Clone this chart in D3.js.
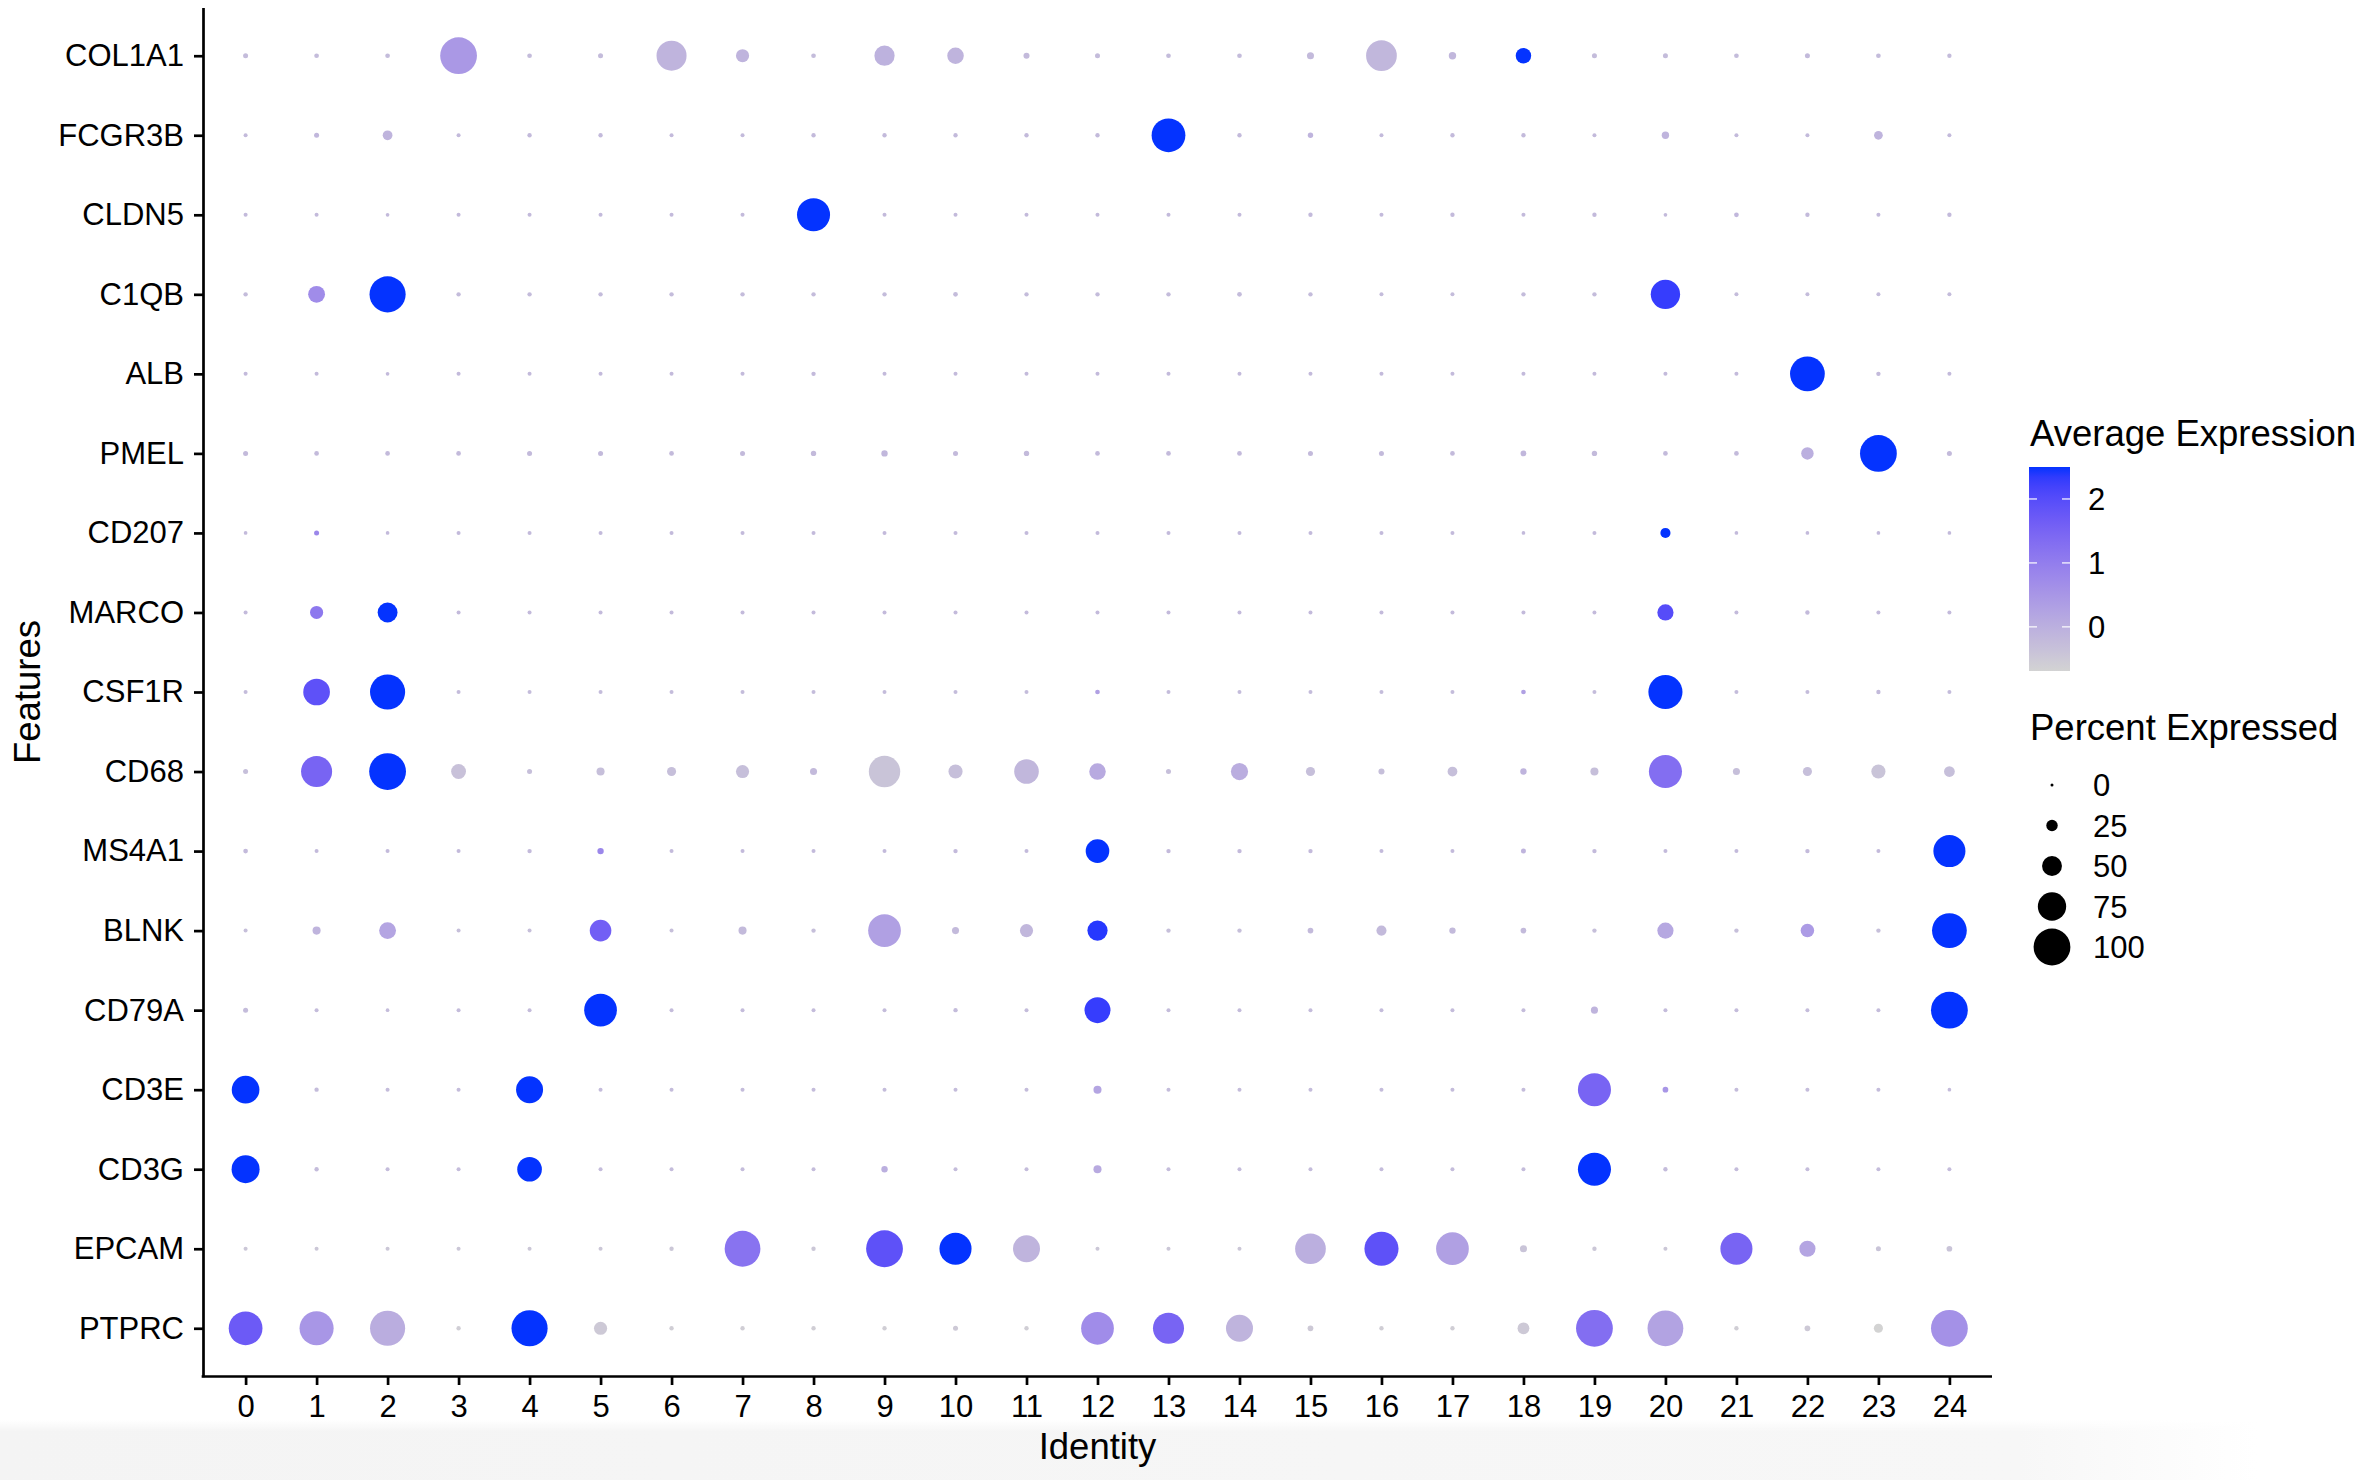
<!DOCTYPE html>
<html>
<head>
<meta charset="utf-8">
<script src="https://cdn.jsdelivr.net/npm/d3@7"></script>
<style>
  html, body { margin: 0; padding: 0; background: #ffffff; }
  svg { display: block; }
  text { font-family: "Liberation Sans", Arial, sans-serif; fill: #000; }
</style>
</head>
<body>
<svg id="chart" width="2376" height="1480"></svg>
<script>
// ---------------- DATA ----------------
const clusters = ["0","1","2","3","4","5","6","7","8","9","10","11","12","13","14","15","16","17","18","19","20","21","22","23","24"];
const features = ["COL1A1","FCGR3B","CLDN5","C1QB","ALB","PMEL","CD207","MARCO","CSF1R","CD68","MS4A1","BLNK","CD79A","CD3E","CD3G","EPCAM","PTPRC"];

// Percent expressed per feature, clusters 0..24
const pctCOL1A1 = [6,5,5,100,5,6,80,30,5,51,40,9,6,5,5,12,82,13,37,6,6,5,6,5,4];
const pctFCGR3B = [3,6,20,3,4,4,3,3,4,4,4,4,4,91,4,7,3,4,4,3,13,3,3,17,3];
const pctCLDN5  = [3,3,2,3,3,3,3,3,89,3,3,3,3,3,3,4,3,4,3,4,2,5,4,3,4];
const pctC1QB   = [4,41,98,4,4,4,4,4,4,4,5,4,4,4,5,4,3,3,4,4,78,3,3,3,3];
const pctALB    = [3,3,2,3,3,3,3,3,4,3,3,3,3,3,3,3,3,3,3,3,3,3,94,4,3];
const pctPMEL   = [6,5,5,5,6,6,5,6,7,10,6,7,5,5,5,6,6,5,8,7,5,5,28,100,6];
const pctCD207  = [2,6,2,3,3,3,3,3,3,3,3,3,3,3,3,3,3,3,2,3,21,2,2,2,2];
const pctMARCO  = [3,30,50,3,3,3,3,3,3,3,3,3,3,3,3,3,3,3,3,3,39,3,4,3,3];
const pctCSF1R  = [3,70,95,3,3,3,3,3,3,3,3,3,5,3,3,3,3,3,5,3,92,3,3,4,3];
const pctCD68   = [6,83,100,35,6,15,18,30,12,84,33,64,40,6,42,18,9,20,10,15,89,12,18,33,23];
const pctMS4A1  = [5,3,3,3,4,10,3,3,3,3,4,3,61,4,4,4,3,3,6,4,3,3,4,3,86];
const pctBLNK   = [3,15,41,3,3,55,3,15,4,88,12,30,51,4,4,8,21,10,8,4,39,4,31,4,94];
const pctCD79A  = [6,3,2,3,3,88,3,3,3,3,4,3,68,3,3,3,3,3,3,12,3,3,3,3,100];
const pctCD3E   = [73,4,3,3,71,3,3,3,3,3,3,3,15,3,3,3,3,3,3,89,8,3,3,3,2];
const pctCD3G   = [74,4,3,3,64,3,3,3,3,10,3,3,15,3,3,3,3,3,3,89,4,3,3,3,3];
const pctEPCAM  = [3,3,3,3,3,3,4,97,4,100,86,71,3,3,3,82,92,88,12,4,3,86,39,6,8];
const pctPTPRC  = [91,92,95,4,98,30,4,4,4,4,6,4,88,83,71,8,4,4,26,100,97,4,8,18,100];

// Average expression (scaled) per feature, clusters 0..24
const avgCOL1A1 = [-0.25,-0.25,-0.25,0.45,-0.25,-0.25,-0.1,-0.1,-0.25,-0.05,-0.1,-0.2,-0.25,-0.25,-0.25,-0.2,-0.15,-0.15,2.5,-0.25,-0.25,-0.25,-0.2,-0.25,-0.25];
const avgFCGR3B = [-0.2,-0.15,-0.1,-0.2,-0.2,-0.2,-0.2,-0.2,-0.2,-0.2,-0.2,-0.2,-0.2,2.5,-0.2,-0.1,-0.2,-0.2,-0.2,-0.2,-0.1,-0.2,-0.2,-0.1,-0.2];
const avgCLDN5  = [-0.2,-0.2,-0.2,-0.2,-0.2,-0.2,-0.2,-0.2,2.5,-0.2,-0.2,-0.2,-0.2,-0.2,-0.2,-0.2,-0.2,-0.2,-0.2,-0.2,-0.2,-0.15,-0.2,-0.2,-0.2];
const avgC1QB   = [-0.25,0.7,2.5,-0.25,-0.25,-0.25,-0.25,-0.25,-0.25,-0.25,-0.25,-0.25,-0.25,-0.25,-0.25,-0.25,-0.25,-0.25,-0.25,-0.25,2.3,-0.25,-0.25,-0.25,-0.25];
const avgALB    = [-0.2,-0.2,-0.2,-0.2,-0.2,-0.2,-0.2,-0.2,-0.2,-0.2,-0.2,-0.2,-0.2,-0.2,-0.2,-0.2,-0.2,-0.2,-0.2,-0.2,-0.2,-0.2,2.5,-0.2,-0.2];
const avgPMEL   = [-0.2,-0.2,-0.2,-0.2,-0.2,-0.2,-0.2,-0.2,-0.2,-0.15,-0.2,-0.2,-0.2,-0.2,-0.2,-0.2,-0.2,-0.2,-0.15,-0.2,-0.2,-0.2,0.0,2.5,-0.2];
const avgCD207  = [-0.2,0.8,-0.2,-0.2,-0.2,-0.2,-0.2,-0.2,-0.2,-0.2,-0.2,-0.2,-0.2,-0.2,-0.2,-0.2,-0.2,-0.2,-0.2,-0.2,2.5,-0.2,-0.2,-0.2,-0.2];
const avgMARCO  = [-0.2,1.1,2.5,-0.2,-0.2,-0.2,-0.2,-0.2,-0.2,-0.2,-0.2,-0.2,-0.2,-0.2,-0.2,-0.2,-0.2,-0.2,-0.2,-0.2,2.0,-0.2,-0.2,-0.2,-0.2];
const avgCSF1R  = [-0.25,1.9,2.5,-0.25,-0.25,-0.25,-0.25,-0.25,-0.25,-0.25,-0.25,-0.25,0.3,-0.25,-0.25,-0.25,-0.25,-0.25,0.3,-0.25,2.5,-0.25,-0.25,-0.2,-0.25];
const avgCD68   = [-0.3,1.5,2.5,-0.35,-0.3,-0.3,-0.3,-0.3,-0.2,-0.4,-0.3,-0.15,0.1,-0.3,0.05,-0.3,-0.3,-0.3,-0.1,-0.3,1.3,-0.3,-0.3,-0.4,-0.3];
const avgMS4A1  = [-0.2,-0.2,-0.2,-0.2,-0.2,0.8,-0.2,-0.2,-0.2,-0.2,-0.2,-0.2,2.5,-0.2,-0.2,-0.2,-0.2,-0.2,-0.1,-0.2,-0.2,-0.2,-0.2,-0.2,2.5];
const avgBLNK   = [-0.3,-0.1,0.2,-0.3,-0.3,1.6,-0.3,-0.2,-0.3,0.3,-0.2,-0.15,2.4,-0.3,-0.3,-0.2,-0.2,-0.2,-0.2,-0.3,0.15,-0.3,0.4,-0.3,2.5];
const avgCD79A  = [-0.25,-0.25,-0.25,-0.25,-0.25,2.5,-0.25,-0.25,-0.25,-0.25,-0.25,-0.25,2.3,-0.25,-0.25,-0.25,-0.25,-0.25,-0.25,-0.1,-0.25,-0.25,-0.25,-0.25,2.5];
const avgCD3E   = [2.5,-0.25,-0.25,-0.25,2.5,-0.25,-0.25,-0.25,-0.25,-0.25,-0.25,-0.25,0.2,-0.25,-0.25,-0.25,-0.25,-0.25,-0.25,1.5,0.5,-0.25,-0.25,-0.25,-0.25];
const avgCD3G   = [2.5,-0.25,-0.25,-0.25,2.5,-0.25,-0.25,-0.25,-0.25,0.0,-0.25,-0.25,0.1,-0.25,-0.25,-0.25,-0.25,-0.25,-0.25,2.5,-0.25,-0.25,-0.25,-0.25,-0.25];
const avgEPCAM  = [-0.45,-0.45,-0.45,-0.45,-0.45,-0.45,-0.45,1.2,-0.45,1.9,2.5,-0.1,-0.45,-0.45,-0.45,0.0,1.9,0.3,-0.4,-0.45,-0.45,1.5,0.2,-0.4,-0.4];
const avgPTPRC  = [1.7,0.5,0.05,-0.6,2.5,-0.5,-0.6,-0.6,-0.6,-0.6,-0.5,-0.6,0.7,1.5,-0.1,-0.5,-0.6,-0.6,-0.5,1.3,0.25,-0.6,-0.5,-0.69,0.6];

const pctByFeature = [pctCOL1A1,pctFCGR3B,pctCLDN5,pctC1QB,pctALB,pctPMEL,pctCD207,pctMARCO,pctCSF1R,pctCD68,pctMS4A1,pctBLNK,pctCD79A,pctCD3E,pctCD3G,pctEPCAM,pctPTPRC];
const avgByFeature = [avgCOL1A1,avgFCGR3B,avgCLDN5,avgC1QB,avgALB,avgPMEL,avgCD207,avgMARCO,avgCSF1R,avgCD68,avgMS4A1,avgBLNK,avgCD79A,avgCD3E,avgCD3G,avgEPCAM,avgPTPRC];

const colorTicks = [0, 1, 2];
const sizeBreaks = [0, 25, 50, 75, 100];

// ---------------- CHART ----------------
const svg = d3.select("#chart");
const panel = { left: 203, right: 1992, top: 8, bottom: 1376 };

const x = d3.scalePoint().domain(clusters).range([panel.left, panel.right]).padding(0.6);
const y = d3.scalePoint().domain(features).range([panel.top, panel.bottom]).padding(0.6);

const allAvg = avgByFeature.flat();
const colorDomain = d3.extent(allAvg);
const color = d3.scaleLinear().domain(colorDomain).range(["#D3D3D3", "#0433FF"]).interpolate(d3.interpolateLab).clamp(true);
const radius = d3.scaleLinear().domain([0, 100]).range([1.5, 18.4]);

// bottom vignette (screenshot shading)
const defs = svg.append("defs");
const vg = defs.append("linearGradient").attr("id", "vign").attr("x1", "0").attr("x2", "1").attr("y1", "0").attr("y2", "0");
vg.append("stop").attr("offset", "0").attr("stop-color", "#f4f4f4");
vg.append("stop").attr("offset", "0.85").attr("stop-color", "#f7f7f7");
vg.append("stop").attr("offset", "0.95").attr("stop-color", "#ffffff");
const vg2 = defs.append("linearGradient").attr("id", "vignV").attr("x1", "0").attr("x2", "0").attr("y1", "0").attr("y2", "1");
vg2.append("stop").attr("offset", "0").attr("stop-color", "#ffffff").attr("stop-opacity", 1);
vg2.append("stop").attr("offset", "1").attr("stop-color", "#ffffff").attr("stop-opacity", 0);
svg.append("rect").attr("x", 0).attr("y", 1420).attr("width", 2376).attr("height", 60).attr("fill", "url(#vign)");
svg.append("rect").attr("x", 0).attr("y", 1420).attr("width", 2376).attr("height", 12).attr("fill", "url(#vignV)");

// points
const cells = [];
features.forEach((f, i) => {
  clusters.forEach((c, j) => {
    cells.push({ feature: f, cluster: c, pct: pctByFeature[i][j], avg: avgByFeature[i][j] });
  });
});

svg.append("g").selectAll("circle").data(cells).join("circle")
  .attr("cx", d => x(d.cluster))
  .attr("cy", d => y(d.feature))
  .attr("r", d => radius(d.pct))
  .attr("fill", d => color(d.avg));

// axes
const tickFont = 31;
const titleFont = 36.5;

const yAxis = svg.append("g").attr("transform", `translate(${panel.left},0)`)
  .call(d3.axisLeft(y).tickSize(9).tickSizeOuter(0).tickPadding(10));
const xAxis = svg.append("g").attr("transform", `translate(0,${panel.bottom})`)
  .call(d3.axisBottom(x).tickSize(9).tickSizeOuter(0).tickPadding(10));

[xAxis, yAxis].forEach(g => {
  g.select(".domain").attr("stroke", "#000").attr("stroke-width", 2.7);
  g.selectAll(".tick line").attr("stroke", "#000").attr("stroke-width", 2.7);
  g.selectAll(".tick text").attr("font-size", tickFont).attr("font-family", "Liberation Sans, Arial, sans-serif").attr("fill", "#000");
});
// make the axis lines meet at the corner
yAxis.select(".domain").attr("d", `M0.5,${panel.top}V${panel.bottom + 1.35}`);
xAxis.select(".domain").attr("d", `M${panel.left - 1.35},0.5H${panel.right}`);

svg.append("text").attr("x", (panel.left + panel.right) / 2).attr("y", 1459)
  .attr("text-anchor", "middle").attr("font-size", titleFont).text("Identity");
svg.append("text").attr("transform", `translate(40,${(panel.top + panel.bottom) / 2}) rotate(-90)`)
  .attr("text-anchor", "middle").attr("font-size", titleFont).text("Features");

// ---------------- LEGENDS ----------------
const lg = svg.append("g");
lg.append("text").attr("x", 2030).attr("y", 446).attr("font-size", titleFont).text("Average Expression");

const barX = 2029, barW = 41, barTop = 467, barBot = 671;
const barScale = d3.scaleLinear().domain(colorDomain).range([barBot, barTop]);
const cg = defs.append("linearGradient").attr("id", "cbar").attr("x1", "0").attr("x2", "0").attr("y1", "1").attr("y2", "0");
d3.range(0, 1.0001, 0.05).forEach(t => {
  const v = colorDomain[0] + t * (colorDomain[1] - colorDomain[0]);
  cg.append("stop").attr("offset", t).attr("stop-color", color(v));
});
lg.append("rect").attr("x", barX).attr("y", barTop).attr("width", barW).attr("height", barBot - barTop).attr("fill", "url(#cbar)");
colorTicks.forEach(v => {
  const yy = barScale(v);
  lg.append("line").attr("x1", barX).attr("x2", barX + 8).attr("y1", yy).attr("y2", yy).attr("stroke", "#fff").attr("stroke-width", 1.2);
  lg.append("line").attr("x1", barX + barW - 8).attr("x2", barX + barW).attr("y1", yy).attr("y2", yy).attr("stroke", "#fff").attr("stroke-width", 1.2);
  lg.append("text").attr("x", 2088).attr("y", yy).attr("dy", "0.36em").attr("font-size", tickFont).text(v);
});

lg.append("text").attr("x", 2030).attr("y", 740).attr("font-size", titleFont).text("Percent Expressed");
const keyY = d3.scalePoint().domain(sizeBreaks).range([785, 947]);
sizeBreaks.forEach(v => {
  lg.append("circle").attr("cx", 2052).attr("cy", keyY(v)).attr("r", radius(v)).attr("fill", "#000");
  lg.append("text").attr("x", 2093).attr("y", keyY(v)).attr("dy", "0.36em").attr("font-size", tickFont).text(v);
});
</script>
</body>
</html>
